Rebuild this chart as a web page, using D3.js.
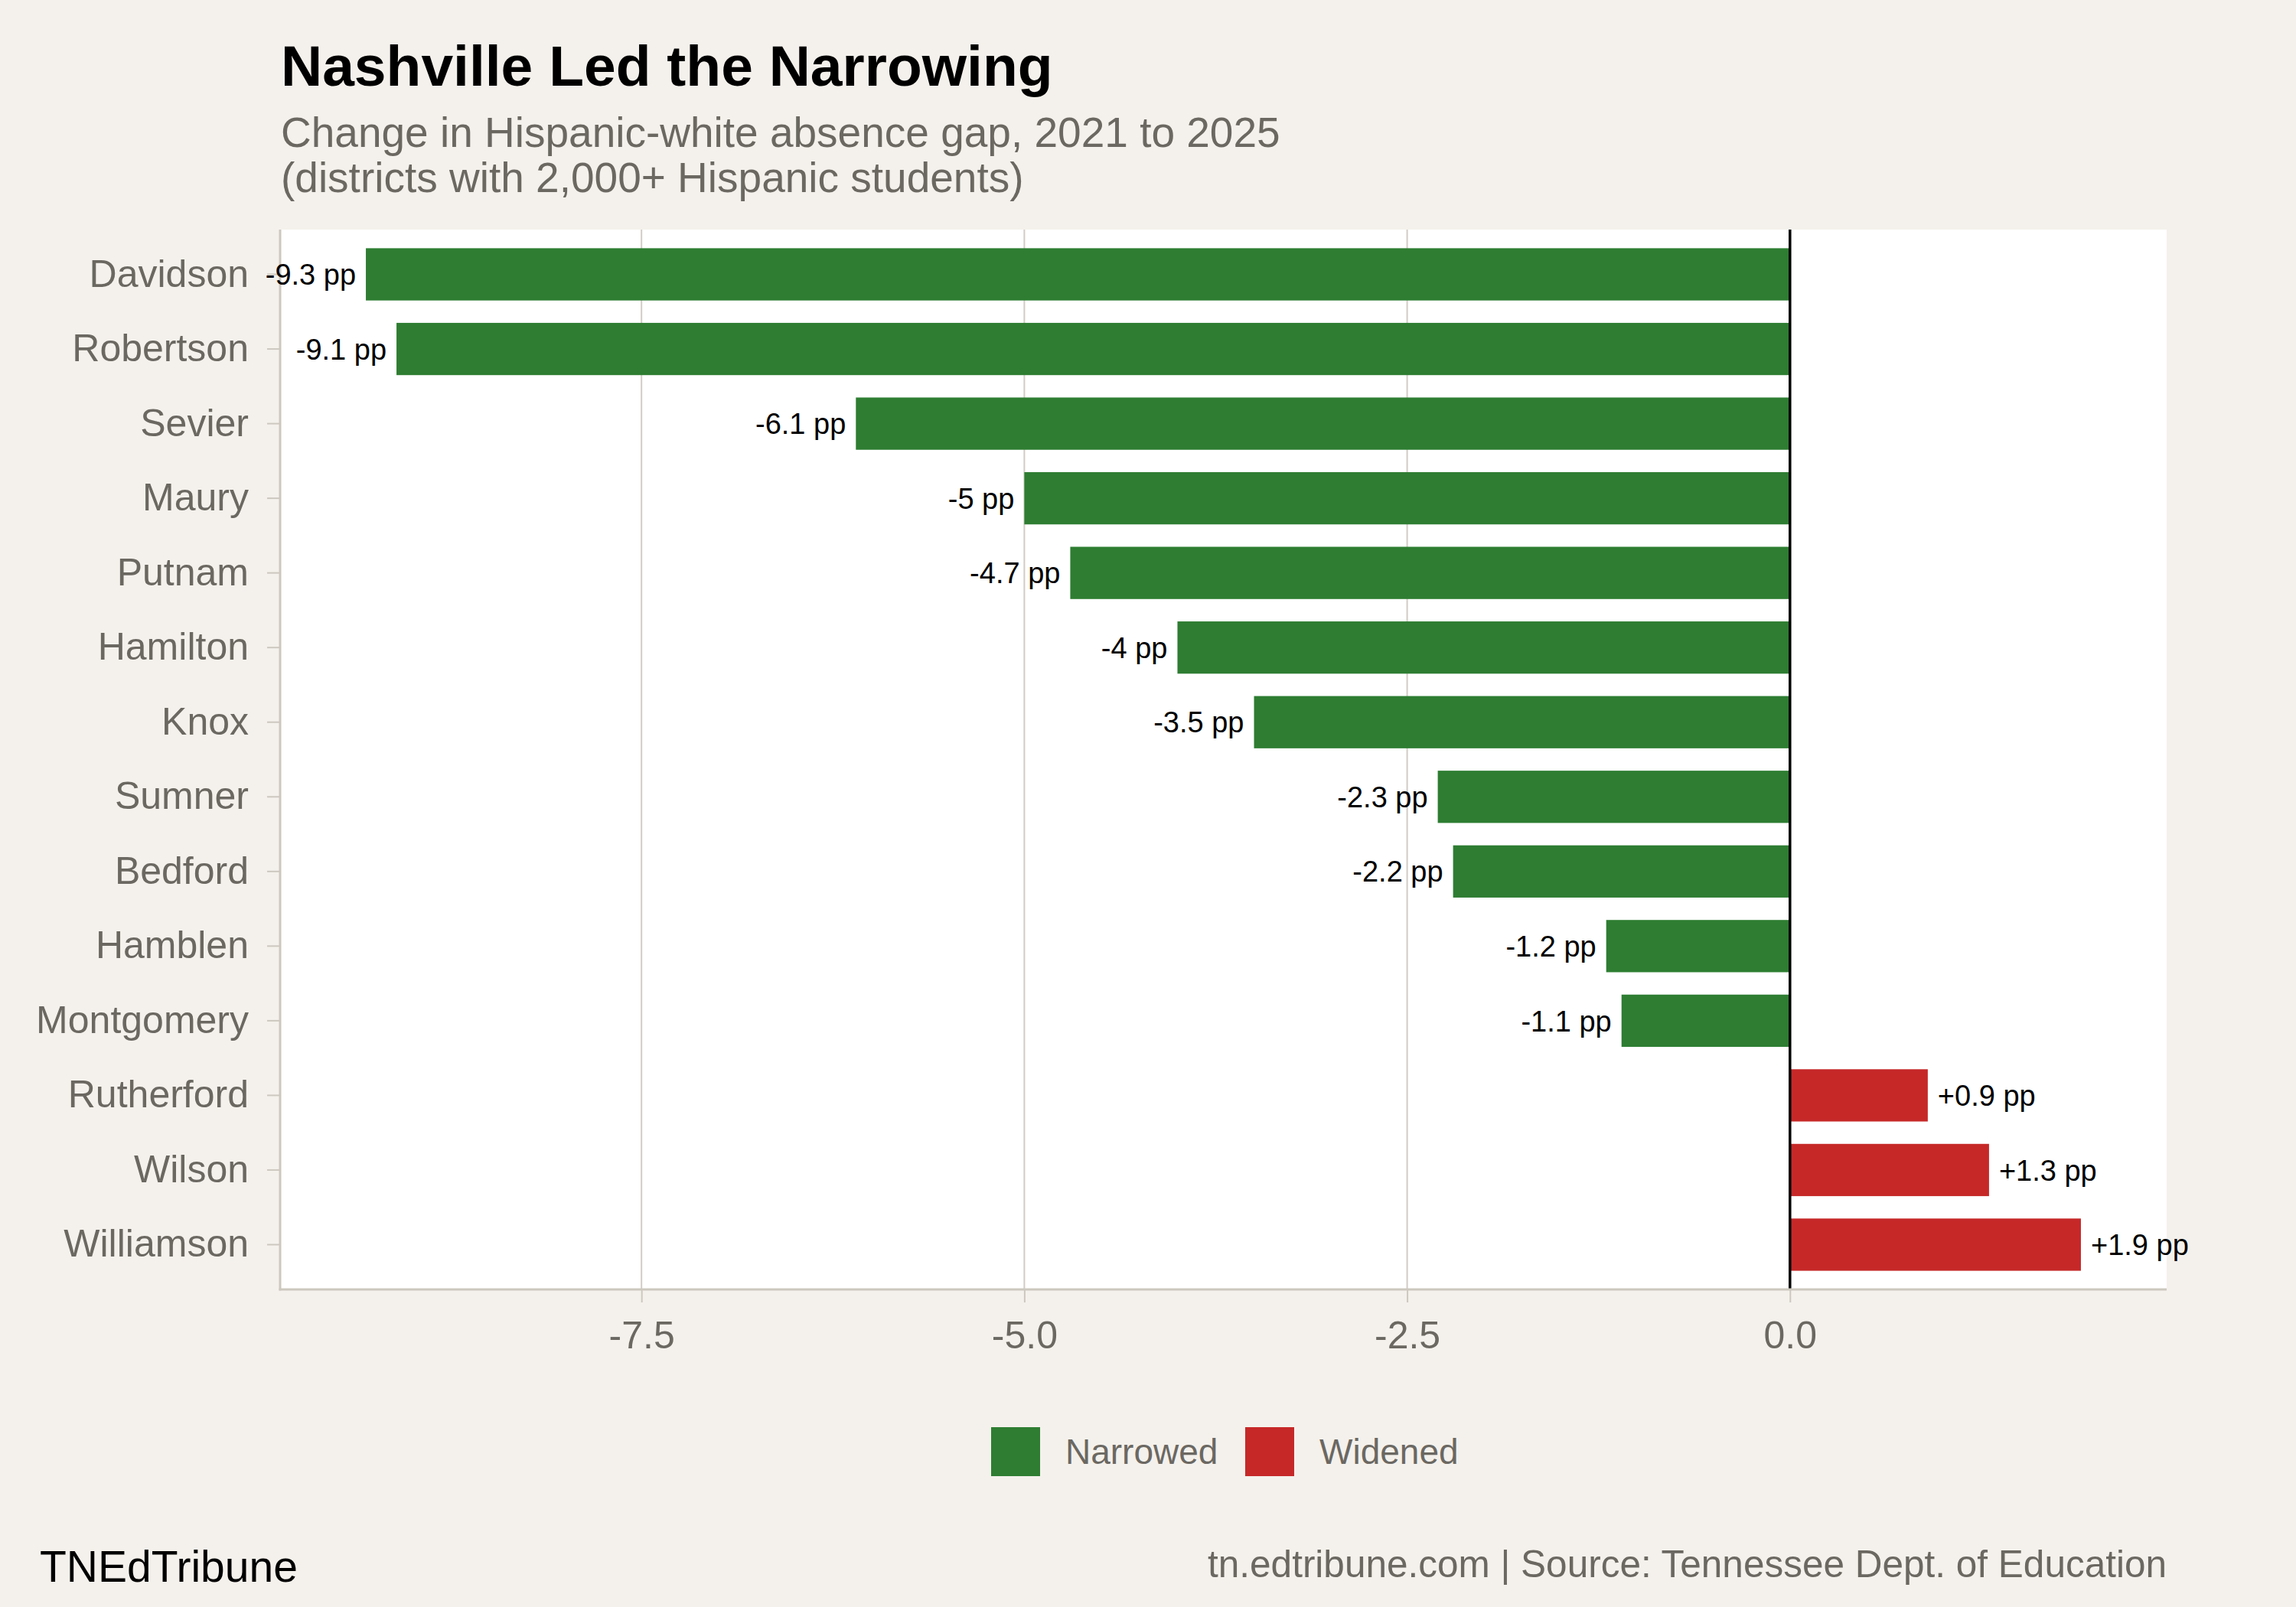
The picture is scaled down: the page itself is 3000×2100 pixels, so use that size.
<!DOCTYPE html>
<html>
<head>
<meta charset="utf-8">
<script src="https://cdn.jsdelivr.net/npm/d3@7"></script>
<style>
  html, body { margin: 0; padding: 0; background: #F4F1EC; overflow: hidden; }
  svg { display: block; }
  text { font-family: "Liberation Sans", Arial, Helvetica, sans-serif; }
</style>
</head>
<body>
<div id="chart"></div>
<script>
// data
var districts = ["Davidson", "Robertson", "Sevier", "Maury", "Putnam", "Hamilton", "Knox",
                 "Sumner", "Bedford", "Hamblen", "Montgomery", "Rutherford", "Wilson", "Williamson"];
var gapChange = [-9.3, -9.1, -6.1, -5, -4.7, -4, -3.5, -2.3, -2.2, -1.2, -1.1, 0.9, 1.3, 1.9];
var xTicks = [-7.5, -5.0, -2.5, 0.0];
var legendLabels = ["Narrowed", "Widened"];

var width = 3000,
    height = 2100,
    margin = { top: 300, right: 169, bottom: 415, left: 366 },
    green = "#2E7D32",
    red = "#C62828",
    greyText = "#6B6862",
    axisGrey = "#CDC8BF";

var data = districts.map(function(d, i){ return { name: d, value: gapChange[i] }; });

var svg = d3.select("#chart").append("svg")
    .attr("width", width)
    .attr("height", height);

svg.append("rect")
    .attr("width", width)
    .attr("height", height)
    .attr("fill", "#F4F1EC");

var innerWidth = width - margin.left - margin.right,
    innerHeight = height - margin.top - margin.bottom;

var g = svg.append("g")
    .attr("transform", "translate(" + margin.left + "," + margin.top + ")");

// ggplot style 5% expansion on the value axis
var lo = d3.min(gapChange), hi = d3.max(gapChange), pad = (hi - lo) * 0.05;
var xScale = d3.scaleLinear()
    .domain([lo - pad, hi + pad])
    .range([0, innerWidth]);

var yScale = d3.scaleBand()
    .domain(districts)
    .range([0, innerHeight])
    .paddingInner(0.3)
    .paddingOuter(0.25);

// panel
g.append("rect")
    .attr("width", innerWidth)
    .attr("height", innerHeight)
    .attr("fill", "#FFFFFF");

// vertical gridlines
g.selectAll(".grid")
  .data(xTicks)
  .enter().append("line")
    .attr("class", "grid")
    .attr("x1", function(d){ return xScale(d); })
    .attr("x2", function(d){ return xScale(d); })
    .attr("y1", 0)
    .attr("y2", innerHeight)
    .attr("stroke", "#D1CDC5")
    .attr("stroke-width", 2);

// bars
g.selectAll(".bar")
  .data(data)
  .enter().append("rect")
    .attr("class", "bar")
    .attr("x", function(d){ return xScale(Math.min(0, d.value)); })
    .attr("y", function(d){ return yScale(d.name); })
    .attr("width", function(d){ return Math.abs(xScale(d.value) - xScale(0)); })
    .attr("height", yScale.bandwidth())
    .attr("fill", function(d){ return d.value < 0 ? green : red; });

// zero line
g.append("line")
    .attr("x1", xScale(0))
    .attr("x2", xScale(0))
    .attr("y1", 0)
    .attr("y2", innerHeight)
    .attr("stroke", "#000000")
    .attr("stroke-width", 3.5);

// Y axis
var yAxis = d3.axisLeft(yScale).tickSize(17).tickPadding(24);
var yAxisG = g.append("g")
    .attr("class", "y-axis")
    .call(yAxis);
yAxisG.select(".domain").remove();
yAxisG.selectAll("line").attr("stroke", axisGrey).attr("stroke-width", 2);
yAxisG.selectAll("text")
    .style("font-size", "50px")
    .attr("fill", greyText);

g.append("line")
    .attr("x1", 0).attr("x2", 0)
    .attr("y1", 0).attr("y2", innerHeight + 1.5)
    .attr("stroke", axisGrey)
    .attr("stroke-width", 3);

// bar labels (drawn after the axis line, like the reference)
g.selectAll(".lbl")
  .data(data)
  .enter().append("text")
    .attr("class", "lbl")
    .attr("x", function(d){ return xScale(d.value) + (d.value < 0 ? -13 : 13); })
    .attr("y", function(d){ return yScale(d.name) + yScale.bandwidth() / 2; })
    .attr("dy", "0.36em")
    .style("text-anchor", function(d){ return d.value < 0 ? "end" : "start"; })
    .style("font-size", "38px")
    .attr("fill", "#000000")
    .text(function(d){ return (d.value > 0 ? "+" : "") + d.value + " pp"; });

// X axis
var xAxis = d3.axisBottom(xScale)
    .tickValues(xTicks)
    .tickFormat(d3.format(".1f"))
    .tickSize(17)
    .tickPadding(24);
var xAxisG = g.append("g")
    .attr("class", "x-axis")
    .attr("transform", "translate(0," + innerHeight + ")")
    .call(xAxis);
xAxisG.select(".domain").remove();
xAxisG.selectAll("line").attr("stroke", axisGrey).attr("stroke-width", 2);
xAxisG.selectAll("text")
    .style("font-size", "50px")
    .attr("fill", greyText)
    .text(function(d){ return d3.format(".1f")(d).replace("\u2212", "-"); });

g.append("line")
    .attr("x1", -1.5).attr("x2", innerWidth)
    .attr("y1", innerHeight).attr("y2", innerHeight)
    .attr("stroke", axisGrey)
    .attr("stroke-width", 3);

// title + subtitle
svg.append("text")
    .attr("x", 367)
    .attr("y", 112)
    .style("font-size", "75px")
    .style("font-weight", "bold")
    .attr("fill", "#000000")
    .text("Nashville Led the Narrowing");

svg.append("text")
    .attr("x", 367)
    .attr("y", 192)
    .style("font-size", "55px")
    .attr("fill", greyText)
    .text("Change in Hispanic-white absence gap, 2021 to 2025");

svg.append("text")
    .attr("x", 367)
    .attr("y", 251)
    .style("font-size", "55px")
    .attr("fill", greyText)
    .text("(districts with 2,000+ Hispanic students)");

// legend
var legendX = [1295, 1627];
var legend = svg.selectAll(".legend")
  .data(legendLabels)
  .enter().append("g")
    .attr("class", "legend")
    .attr("transform", function(d, i){ return "translate(" + legendX[i] + ",1865)"; });

legend.append("rect")
    .attr("width", 64)
    .attr("height", 64)
    .attr("fill", function(d, i){ return i == 0 ? green : red; });

legend.append("text")
    .attr("x", 97)
    .attr("y", 48)
    .style("font-size", "46px")
    .attr("fill", greyText)
    .text(function(d){ return d; });

// footer
svg.append("text")
    .attr("x", 52)
    .attr("y", 2067)
    .style("font-size", "57px")
    .attr("fill", "#000000")
    .text("TNEdTribune");

svg.append("text")
    .attr("x", 2831)
    .attr("y", 2061)
    .style("font-size", "49.5px")
    .style("text-anchor", "end")
    .attr("fill", greyText)
    .text("tn.edtribune.com | Source: Tennessee Dept. of Education");
</script>
</body>
</html>
